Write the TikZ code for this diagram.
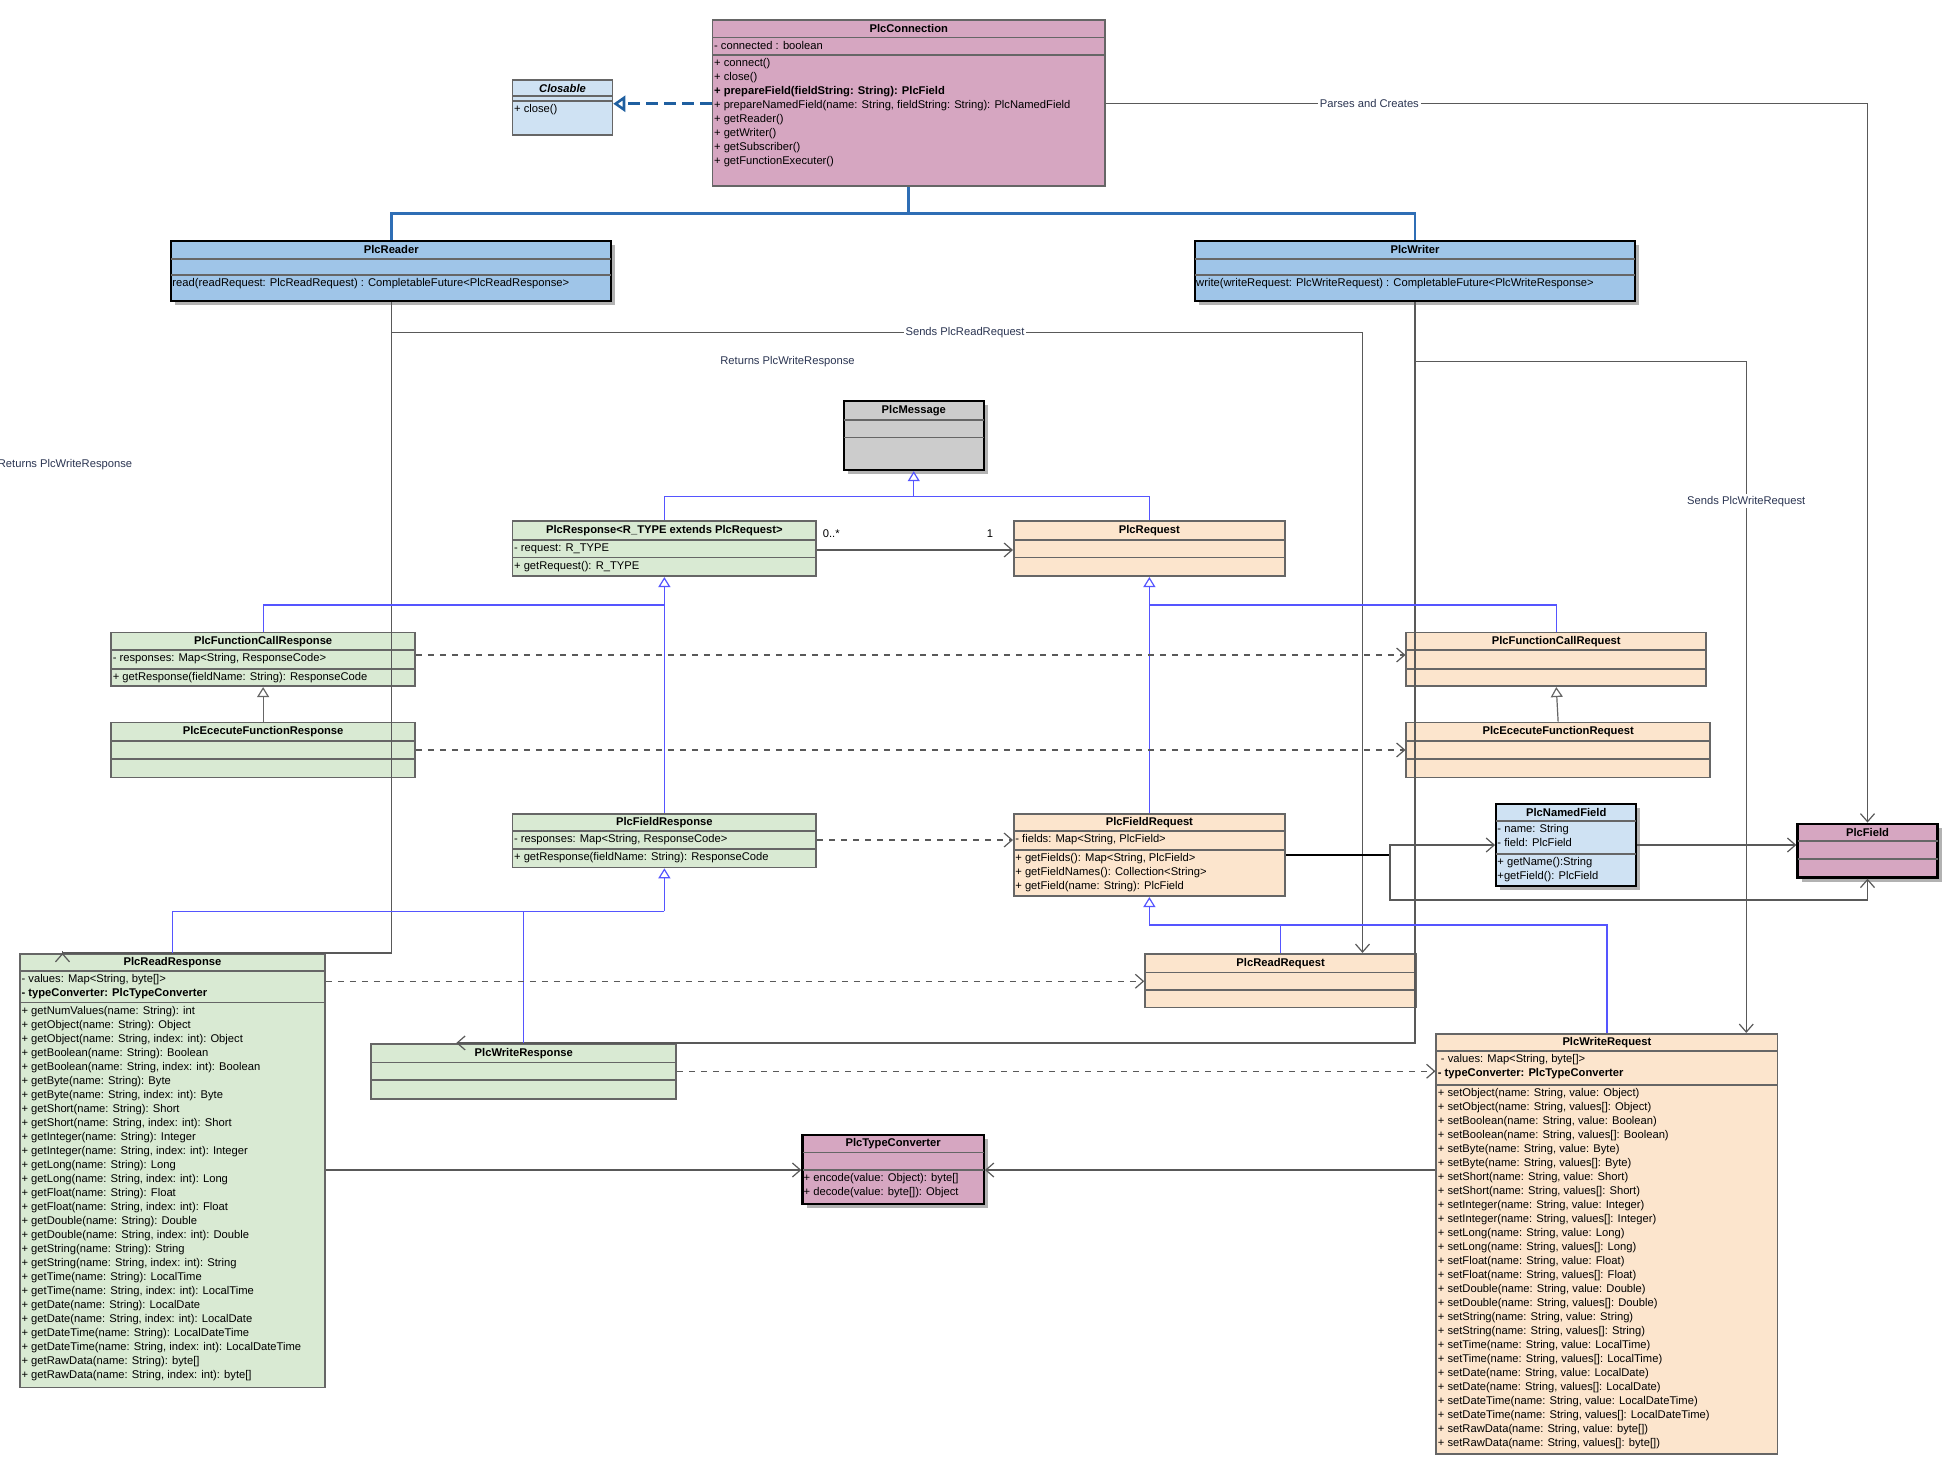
\documentclass[tikz,border=0pt]{standalone}
\usepackage{fontspec}
\setmainfont{Liberation Sans}
\usetikzlibrary{arrows.meta,fit}

\definecolor{pinkc}{HTML}{D6A6C1}
\definecolor{bluel}{HTML}{CFE2F3}
\definecolor{blued}{HTML}{9FC5E8}
\definecolor{greenc}{HTML}{D9EAD3}
\definecolor{orangec}{HTML}{FCE5CD}
\definecolor{grayc}{HTML}{CCCCCC}
\definecolor{genblue}{HTML}{5555FF}
\definecolor{busblue}{HTML}{2F6EB5}
\definecolor{realblue}{HTML}{1F5FA0}
\definecolor{lbltext}{HTML}{2B3552}

\newcommand{\umlfont}{\fontsize{5.6}{7}\selectfont}

\tikzset{
  box/.style={inner sep=0pt,draw=black!60,line width=0.8pt},
  sbox/.style={inner sep=0pt,draw=black,line width=1.2pt,
    preaction={fill=black!30,transform canvas={shift={(2pt,-2pt)}}}},
  sepline/.style={line width=0.8pt,draw=black!60},
  ssepline/.style={line width=1.1pt,draw=black},
  title/.style={font=\umlfont\bfseries,inner sep=0pt},
  members/.style={font=\umlfont,align=left,inner sep=0pt,anchor=north west},
  lbl/.style={font=\umlfont,fill=white,text=lbltext,inner sep=1pt},
  assoc/.style={draw=black!65,line width=0.6pt,-{Straight Barb[length=4pt,width=7pt]}},
  dep/.style={assoc,dashed},
  genline/.style={draw=genblue,line width=0.6pt},
  gen/.style={genline,-{Triangle[open,length=5pt,width=6pt]}},
  gengray/.style={draw=black!60,line width=0.6pt,-{Triangle[open,length=5pt,width=6pt]}},
  cbus/.style={draw=busblue,line width=1.3pt},
  real/.style={draw=realblue,line width=1.3pt,dash pattern=on 6pt off 3pt,
    -{Triangle[open,length=6pt,width=8pt]}},
}

% id, style, x1, y1, x2, y2, sep1, sep2, title
\newcommand{\classbox}[9]{%
  \node[fit={(#3,#4)(#5,#6)},#2] (#1) {};
  \draw[sepline] (#3,#7) -- (#5,#7);
  \draw[sepline] (#3,#8) -- (#5,#8);
  \node[title] (#1-t) at ({(#3+#5)/2},{(#4+#7)/2}) {#9};
}
% id, y, text
\newcommand{\members}[3]{%
  \node[members,xshift=1pt,yshift=-1.6pt] (#1-#2) at (#1.west |- 0,#2) {#3};
}

\begin{document}
\begin{tikzpicture}[x=0.625pt,y=-0.625pt]
\useasboundingbox (0,0) rectangle (1561.6,1176);

% classes
\classbox{conn}{box,fill=pinkc}{570}{16}{884}{149}{30}{44}{PlcConnection}
\members{conn}{30}{- connected : boolean}
\members{conn}{44}{+ connect()\\+ close()\\\textbf{+ prepareField(fieldString: String): PlcField}\\+ prepareNamedField(name: String, fieldString: String): PlcNamedField\\+ getReader()\\+ getWriter()\\+ getSubscriber()\\+ getFunctionExecuter()}

\classbox{clos}{box,fill=bluel}{410}{64}{490}{108}{77}{81}{\itshape Closable}
\members{clos}{81}{+ close()}

\classbox{reader}{sbox,fill=blued}{137}{193}{489}{241}{207}{220}{PlcReader}
\members{reader}{220}{read(readRequest: PlcReadRequest) : CompletableFuture<PlcReadResponse>}
\classbox{writer}{sbox,fill=blued}{956}{193}{1308}{241}{207}{220}{PlcWriter}
\members{writer}{220}{write(writeRequest: PlcWriteRequest) : CompletableFuture<PlcWriteResponse>}

\classbox{msg}{sbox,fill=grayc}{675}{321}{787}{376}{336}{350}{PlcMessage}

\classbox{resp}{box,fill=greenc}{410}{417}{653}{461}{432}{446}{PlcResponse<R\_TYPE extends PlcRequest>}
\members{resp}{432}{- request: R\_TYPE}
\members{resp}{446}{+ getRequest(): R\_TYPE}
\classbox{req}{box,fill=orangec}{811}{417}{1028}{461}{432}{446}{PlcRequest}

\classbox{fcresp}{box,fill=greenc}{89}{506}{332}{549}{520}{535}{PlcFunctionCallResponse}
\members{fcresp}{520}{- responses: Map<String, ResponseCode>}
\members{fcresp}{535}{+ getResponse(fieldName: String): ResponseCode}
\classbox{fcreq}{box,fill=orangec}{1125}{506}{1365}{549}{520}{535}{PlcFunctionCallRequest}
\classbox{eresp}{box,fill=greenc}{89}{578}{332}{622}{593}{607}{PlcEcecuteFunctionResponse}
\classbox{ereq}{box,fill=orangec}{1125}{578}{1368}{622}{593}{607}{PlcEcecuteFunctionRequest}

\classbox{fresp}{box,fill=greenc}{410}{651}{653}{694}{665}{679}{PlcFieldResponse}
\members{fresp}{665}{- responses: Map<String, ResponseCode>}
\members{fresp}{679}{+ getResponse(fieldName: String): ResponseCode}
\classbox{freq}{box,fill=orangec}{811}{651}{1028}{717}{665}{680}{PlcFieldRequest}
\members{freq}{665}{- fields: Map<String, PlcField>}
\members{freq}{680}{+ getFields(): Map<String, PlcField>\\+ getFieldNames(): Collection<String>\\+ getField(name: String): PlcField}

\classbox{nfield}{sbox,fill=bluel}{1197}{643}{1309}{709}{657}{683}{PlcNamedField}
\members{nfield}{657}{- name: String\\- field: PlcField}
\members{nfield}{683}{+ getName():String\\+getField(): PlcField}
\classbox{field}{sbox,fill=pinkc}{1438}{659}{1550}{702}{673}{687}{PlcField}

\classbox{rresp}{box,fill=greenc}{16}{763}{260}{1110}{777}{802}{PlcReadResponse}
\members{rresp}{777}{- values: Map<String, byte[]>\\\textbf{- typeConverter: PlcTypeConverter}}
\members{rresp}{802}{+ getNumValues(name: String): int\\+ getObject(name: String): Object\\+ getObject(name: String, index: int): Object\\+ getBoolean(name: String): Boolean\\+ getBoolean(name: String, index: int): Boolean\\+ getByte(name: String): Byte\\+ getByte(name: String, index: int): Byte\\+ getShort(name: String): Short\\+ getShort(name: String, index: int): Short\\+ getInteger(name: String): Integer\\+ getInteger(name: String, index: int): Integer\\+ getLong(name: String): Long\\+ getLong(name: String, index: int): Long\\+ getFloat(name: String): Float\\+ getFloat(name: String, index: int): Float\\+ getDouble(name: String): Double\\+ getDouble(name: String, index: int): Double\\+ getString(name: String): String\\+ getString(name: String, index: int): String\\+ getTime(name: String): LocalTime\\+ getTime(name: String, index: int): LocalTime\\+ getDate(name: String): LocalDate\\+ getDate(name: String, index: int): LocalDate\\+ getDateTime(name: String): LocalDateTime\\+ getDateTime(name: String, index: int): LocalDateTime\\+ getRawData(name: String): byte[]\\+ getRawData(name: String, index: int): byte[]}
\classbox{rreq}{box,fill=orangec}{916}{763}{1133}{806}{778}{792}{PlcReadRequest}
\classbox{wresp}{box,fill=greenc}{297}{835}{541}{879}{850}{864}{PlcWriteResponse}

\classbox{wreq}{box,fill=orangec}{1149}{827}{1422}{1163}{841}{868}{PlcWriteRequest}
\members{wreq}{841}{\ - values: Map<String, byte[]>\\\textbf{- typeConverter: PlcTypeConverter}}
\members{wreq}{868}{+ setObject(name: String, value: Object)\\+ setObject(name: String, values[]: Object)\\+ setBoolean(name: String, value: Boolean)\\+ setBoolean(name: String, values[]: Boolean)\\+ setByte(name: String, value: Byte)\\+ setByte(name: String, values[]: Byte)\\+ setShort(name: String, value: Short)\\+ setShort(name: String, values[]: Short)\\+ setInteger(name: String, value: Integer)\\+ setInteger(name: String, values[]: Integer)\\+ setLong(name: String, value: Long)\\+ setLong(name: String, values[]: Long)\\+ setFloat(name: String, value: Float)\\+ setFloat(name: String, values[]: Float)\\+ setDouble(name: String, value: Double)\\+ setDouble(name: String, values[]: Double)\\+ setString(name: String, value: String)\\+ setString(name: String, values[]: String)\\+ setTime(name: String, value: LocalTime)\\+ setTime(name: String, values[]: LocalTime)\\+ setDate(name: String, value: LocalDate)\\+ setDate(name: String, values[]: LocalDate)\\+ setDateTime(name: String, value: LocalDateTime)\\+ setDateTime(name: String, values[]: LocalDateTime)\\+ setRawData(name: String, value: byte[])\\+ setRawData(name: String, values[]: byte[])}

\classbox{tconv}{sbox,fill=pinkc}{642}{908}{787}{963}{922}{936}{PlcTypeConverter}
\members{tconv}{936}{+ encode(value: Object): byte[]\\+ decode(value: byte[]): Object}

% connection
\draw[real] (conn.west |- 0,83) -- (clos.east |- 0,83);
\draw[cbus] (conn.south) -- (conn.south |- 0,171);
\draw[cbus] (reader.north) |- (writer.north |- 0,171) -- (writer.north);
\draw[assoc] (conn.east |- 0,83) -| (field.north)
  node[lbl,pos=0.173] (l-parse) {Parses and Creates};

% reader / writer
\draw[assoc] (reader.south) |- (rresp.north -| 50,0) -- (rresp.north -| 50,0);
\draw[assoc] (reader.south |- 0,266) -| (rreq.north -| 1090,0);
\draw[assoc] (writer.south) |- (wresp.north -| 365,0);
\draw[assoc] (writer.south |- 0,289) -| (wreq.north -| 1397,0);
\node[lbl] (l-rret) at (52,372) {Returns PlcWriteResponse};
\node[lbl] (l-rsend) at (772,266) {Sends PlcReadRequest};
\node[lbl] (l-wret) at (630,289) {Returns PlcWriteResponse};
\node[lbl] (l-wsend) at (1397,401) {Sends PlcWriteRequest};

% hierarchy
\draw[genline] (resp.north) |- (req.north |- 0,397) -- (req.north);
\draw[gen] (msg.south |- 0,397) -- (msg.south);
\draw[assoc] (resp.east |- 0,440) -- (req.west |- 0,440);
\node[font=\umlfont,inner sep=0pt] (m-many) at (665,427) {0..*};
\node[font=\umlfont,inner sep=0pt] (m-one) at (792,427) {1};
\draw[genline] (fcresp.north) |- (resp.south |- 0,484);
\draw[gen] (fresp.north) -- (resp.south);
\draw[genline] (fcreq.north) |- (req.south |- 0,484);
\draw[gen] (freq.north) -- (req.south);
\draw[gengray] (eresp.north) -- (fcresp.south);
\draw[gengray] (ereq.north) -- (fcreq.south);
\draw[genline] (rresp.north) |- (fresp.south |- 0,729);
\draw[genline] (wresp.north) |- (fresp.south |- 0,729);
\draw[gen] (fresp.south |- 0,729) -- (fresp.south);
\draw[genline] (rreq.north) |- (freq.south |- 0,740);
\draw[genline] (wreq.north) |- (freq.south |- 0,740);
\draw[gen] (freq.south |- 0,740) -- (freq.south);

% dependencies
\draw[dep] (fcresp.east |- 0,524) -- (fcreq.west |- 0,524);
\draw[dep] (eresp.east |- 0,600) -- (ereq.west |- 0,600);
\draw[dep] (fresp.east |- 0,672) -- (freq.west |- 0,672);
\draw[dep] (rresp.east |- 0,785) -- (rreq.west |- 0,785);
\draw[dep] (wresp.east |- 0,857) -- (wreq.west |- 0,857);

% fields and converter
\coordinate (fj) at (1112,684);
\draw[line width=0.9pt] (freq.east |- 0,684) -- (fj);
\draw[assoc] (fj) |- (nfield.west |- 0,676);
\draw[assoc] (fj) |- (field.south |- 0,720) -- (field.south);
\draw[assoc] (nfield.east |- 0,676) -- (field.west |- 0,676);
\draw[assoc] (rresp.east |- 0,936) -- (tconv.west |- 0,936);
\draw[assoc] (wreq.west |- 0,936) -- (tconv.east |- 0,936);
\end{tikzpicture}
\end{document}
